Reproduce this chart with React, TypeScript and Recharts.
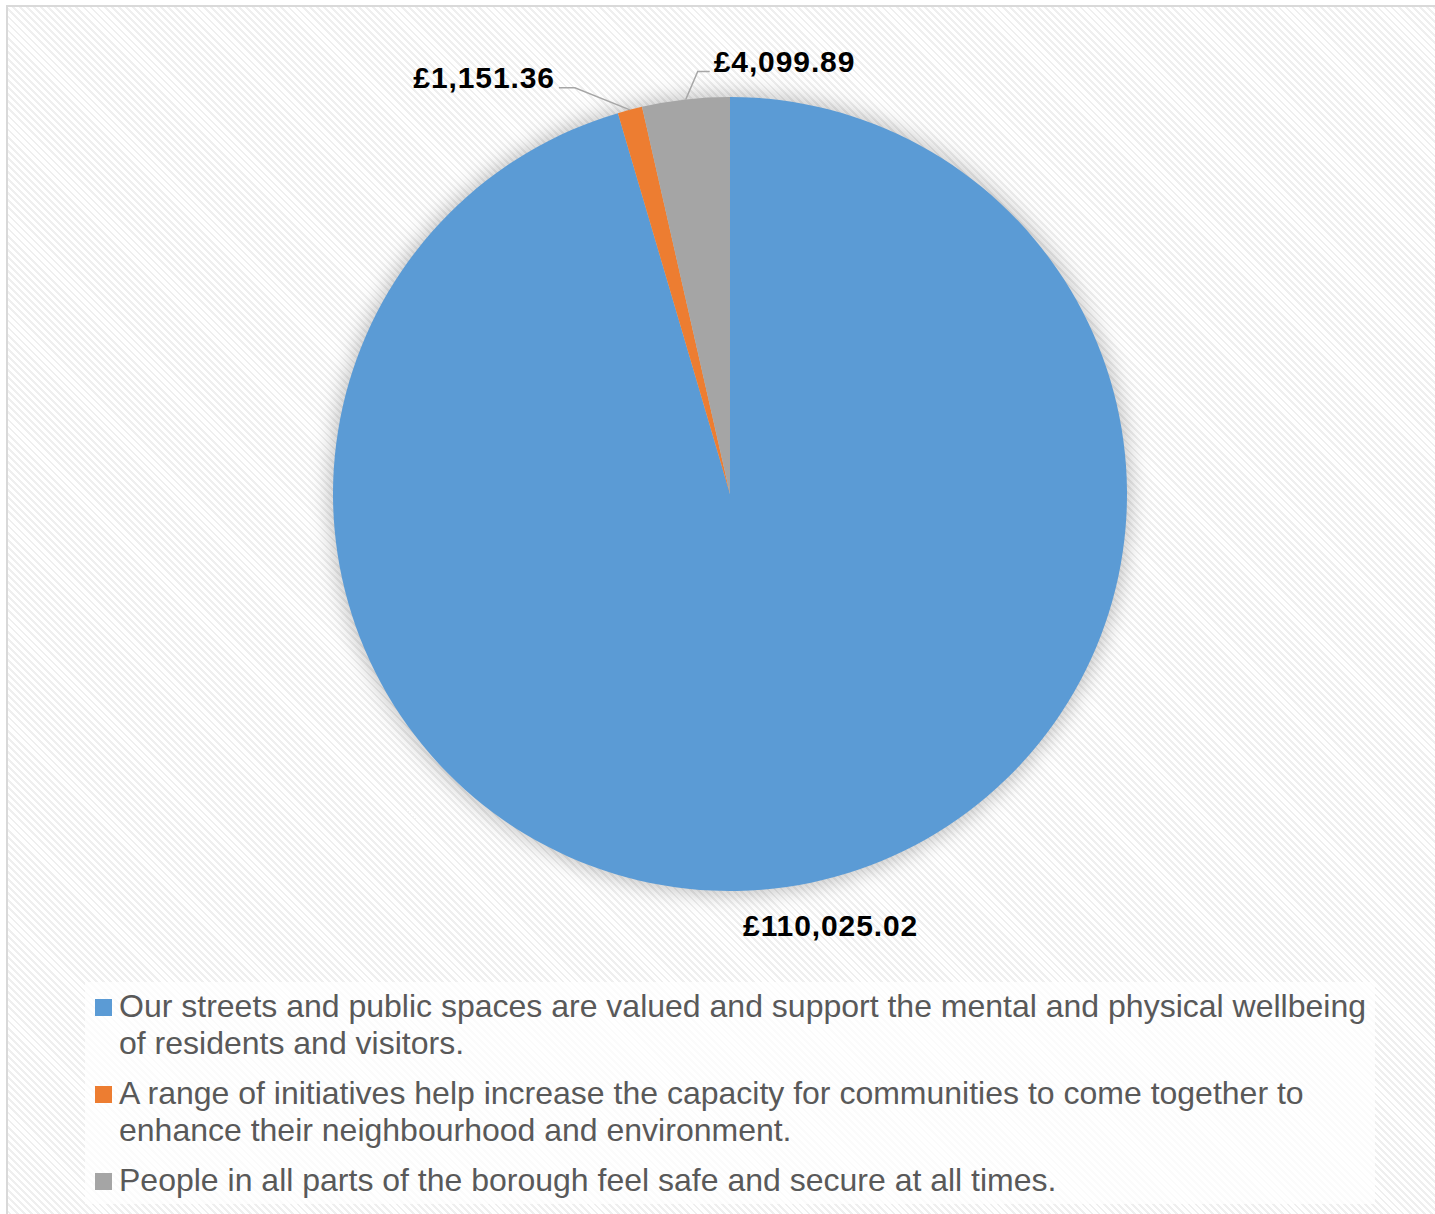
import React from "react";
import { PieChart, Pie, Cell, Legend } from "recharts";

const categories = [
  "Our streets and public spaces are valued and support the mental and physical wellbeing of residents and visitors.",
  "A range of initiatives help increase the capacity for communities to come together to enhance their neighbourhood and environment.",
  "People in all parts of the borough feel safe and secure at all times.",
];
const amounts = [110025.02, 1151.36, 4099.89];
const colours = ["#5b9bd5", "#ed7d31", "#a5a5a5"];

const data = categories.map((name, i) => ({ name, value: amounts[i] }));

const RADIAN = Math.PI / 180;
const FONT = "'Liberation Sans', Arial, sans-serif";

// label placement relative to the slice edge: elbow, end of leader, text anchor
const labelLayout = [
  { line: false, dx: 44, dy: 39, anchor: "middle" },
  { line: true, ex: -55, ey: -22, tx: -71, ty: -22, anchor: "end" },
  { line: true, ex: 12, ey: -28, tx: 24, ty: -28, anchor: "start" },
];

const money = (v: number) =>
  "£" + v.toLocaleString("en-GB", { minimumFractionDigits: 2, maximumFractionDigits: 2 });

const renderLabel = (props: any) => {
  const { cx, cy, midAngle, outerRadius, index, value } = props;
  const px = cx + outerRadius * Math.cos(-midAngle * RADIAN);
  const py = cy + outerRadius * Math.sin(-midAngle * RADIAN);
  const l: any = labelLayout[index];
  const textStyle = {
    fontFamily: FONT,
    fontSize: 30,
    fontWeight: 700,
    letterSpacing: 0.9,
    fill: "#000",
  };
  if (!l.line) {
    return (
      <text x={px + l.dx} y={py + l.dy} textAnchor="middle" dominantBaseline="central" style={textStyle}>
        {money(value)}
      </text>
    );
  }
  const ex = px + l.ex;
  const ey = py + l.ey;
  const tx = px + l.tx;
  const ty = py + l.ty;
  const textX = l.anchor === "end" ? tx - 4 : tx + 4;
  return (
    <g>
      <polyline
        points={`${px},${py} ${ex},${ey} ${tx},${ty}`}
        fill="none"
        stroke="#a6a6a6"
        strokeWidth={1.5}
      />
      <text x={textX} y={ty - 10} textAnchor={l.anchor} dominantBaseline="central" style={textStyle}>
        {money(value)}
      </text>
    </g>
  );
};

const CustomLegend = () => (
  <div
    style={{
      width: 1290,
      height: 222,
      boxSizing: "border-box",
      padding: "6px 0 0 10px",
      background: "rgba(255,255,255,0.75)",
      fontFamily: FONT,
      fontSize: 32,
      lineHeight: "37px",
      color: "#595959",
    }}
  >
    {categories.map((c, i) => (
      <div key={c} style={{ display: "flex", alignItems: "flex-start", marginBottom: 13 }}>
        <div
          style={{
            width: 17,
            height: 17,
            background: colours[i],
            marginTop: 11,
            marginRight: 7,
            flexShrink: 0,
          }}
        />
        <div style={{ width: 1256 }}>{c}</div>
      </div>
    ))}
  </div>
);

export default function App() {
  return (
    <div style={{ position: "absolute", left: 0, top: 0, width: 1435, height: 1214, overflow: "hidden" }}>
      <style>{`.pie-shadow { filter: blur(7px); }`}</style>
      <div
        style={{
          position: "absolute",
          left: 6,
          top: 5,
          width: 1440,
          height: 1220,
          border: "2px solid #d9d9d9",
          background:
            "repeating-linear-gradient(45deg, #efefef 0px, #efefef 2px, #ffffff 2px, #ffffff 5px)",
        }}
      />
      <div style={{ position: "absolute", left: 0, top: 0 }}>
        <PieChart width={1435} height={1214} margin={{ top: 0, right: 0, bottom: 0, left: 0 }}>
          <Pie
            data={data}
            dataKey="value"
            nameKey="name"
            cx={730}
            cy={494}
            outerRadius={401}
            startAngle={90}
            endAngle={-270}
            fill="#000"
            fillOpacity={0.22}
            stroke="none"
            className="pie-shadow"
            legendType="none"
            isAnimationActive={false}
          />
          <Pie
            data={data}
            dataKey="value"
            nameKey="name"
            cx={730}
            cy={494}
            outerRadius={397}
            startAngle={90}
            endAngle={-270}
            stroke="none"
            label={renderLabel}
            labelLine={false}
            isAnimationActive={false}
          >
            {data.map((d, i) => (
              <Cell key={d.name} fill={colours[i]} />
            ))}
          </Pie>
          <Legend
            content={<CustomLegend />}
            wrapperStyle={{ position: "absolute", left: 85, top: 982, width: 1290 }}
          />
        </PieChart>
      </div>
    </div>
  );
}
